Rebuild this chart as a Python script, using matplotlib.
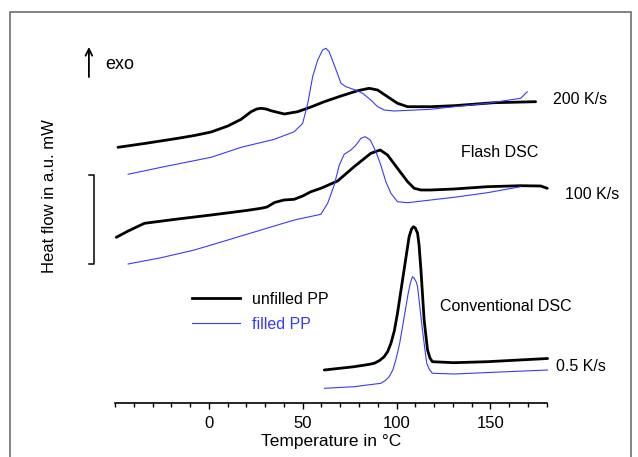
import matplotlib
matplotlib.use("Agg")
import matplotlib.pyplot as plt
from matplotlib.patches import Rectangle
from matplotlib.ticker import MultipleLocator
from matplotlib.lines import Line2D

plt.rcParams['font.family'] = ['Liberation Sans', 'DejaVu Sans']

# ---- data (temperature in degC, heat flow in a.u.) ----
t_200_unfilled = [-48.4, -34.3, -16.5, -7.7, 1.2, 10.1, 17.2, 22.5, 25.5, 27.8, 30.5, 33.1, 40.2, 47.3,
                  54.4, 61.5, 70.4, 79.3, 85.4, 89.9, 95.2, 100.5, 105.9, 118.2, 130.6, 151.9, 174.1]
h_200_unfilled = [255.7, 259.5, 264.7, 267.5, 271.0, 277.0, 283.7, 291.3, 294.0, 294.7, 294.0, 292.3,
                  289.0, 291.3, 296.0, 301.3, 307.0, 312.3, 314.7, 313.0, 306.3, 299.7, 296.3, 296.3,
                  297.3, 300.3, 301.3]

t_200_filled = [-43.1, -25.4, 1.2, 17.2, 34.9, 45.5, 50.0, 52.7, 55.3, 58.0, 60.6, 62.4, 64.1, 66.8,
                70.4, 73.0, 78.1, 81.9, 86.3, 89.9, 93.4, 98.7, 118.2, 130.6, 148.4, 166.1, 169.7]
h_200_filled = [228.7, 235.7, 245.7, 255.7, 263.7, 271.3, 279.7, 299.7, 326.3, 343.0, 353.0, 354.7,
                351.3, 338.0, 319.7, 316.3, 313.0, 309.7, 303.0, 296.3, 293.0, 292.0, 293.7, 296.3,
                299.7, 304.7, 311.3]

t_100_unfilled = [-49.3, -43.0, -34.3, -16.5, 1.2, 20.0, 27.8, 31.0, 35.0, 40.0, 45.5, 50.0, 54.4, 59.7,
                  68.6, 77.4, 86.3, 91.3, 95.2, 100.5, 105.9, 109.4, 113.0, 118.2, 130.6, 148.4, 166.1,
                  176.8, 180.3]
h_100_unfilled = [165.7, 172.0, 179.7, 184.0, 188.0, 192.5, 194.7, 196.0, 200.5, 203.0, 203.7, 207.0,
                  211.3, 214.7, 222.0, 236.3, 249.7, 253.0, 248.0, 234.7, 221.3, 214.7, 213.0, 213.0,
                  214.0, 216.3, 217.3, 217.0, 214.7]

t_100_filled = [-43.1, -25.4, -7.7, 10.1, 27.8, 45.5, 59.7, 63.3, 66.8, 69.5, 72.1, 75.7, 78.4, 81.0,
                83.3, 86.0, 89.0, 91.6, 94.3, 97.0, 100.5, 105.9, 118.2, 130.6, 148.4, 166.1]
h_100_filled = [139.0, 145.3, 153.0, 163.0, 173.0, 183.0, 188.7, 199.7, 218.0, 238.0, 248.7, 253.0,
                258.0, 264.7, 266.3, 263.0, 251.3, 238.0, 221.3, 209.7, 201.3, 200.3, 203.0, 205.7,
                210.3, 216.3]

t_05_unfilled = [61.5, 77.4, 85.0, 88.1, 91.0, 93.4, 95.3, 97.0, 98.8, 100.5, 104.0, 106.7, 108.0, 109.0,
                 110.0, 111.2, 112.0, 113.0, 114.7, 116.5, 117.8, 119.1, 130.6, 148.4, 180.5]
h_05_unfilled = [33.0, 36.3, 38.5, 39.7, 42.5, 46.3, 51.5, 59.7, 72.0, 89.7, 133.0, 166.3, 174.0, 176.3,
                 175.0, 169.7, 158.0, 133.0, 83.0, 53.0, 45.0, 41.3, 40.3, 41.3, 44.5]

t_05_filled = [61.5, 77.4, 91.6, 94.0, 96.1, 98.0, 99.6, 101.5, 103.2, 106.2, 107.5, 108.5, 109.5, 110.5,
               111.2, 113.8, 115.0, 116.1, 117.5, 119.1, 130.6, 180.5]
h_05_filled = [14.7, 16.3, 19.7, 22.5, 26.3, 33.0, 43.0, 58.0, 76.3, 109.7, 121.0, 126.3, 124.5, 121.0,
               116.3, 73.0, 55.0, 39.7, 33.5, 29.7, 29.0, 33.0]

x_ticks = [0, 50, 100, 150]
labels = ["unfilled PP", "filled PP"]

BLACK = "black"
BLUE = "#3a3aff"
W, H = 638, 457

fig = plt.figure(figsize=(W / 100, H / 100), dpi=100)
ax = fig.add_axes([115 / W, 54 / H, 431.7 / W, 403 / H])
ax.set_xlim(-50, 180)
ax.set_ylim(0, 403)

for t, h, c, lw in [(t_200_unfilled, h_200_unfilled, BLACK, 2.0),
                    (t_200_filled, h_200_filled, BLUE, 0.8),
                    (t_100_unfilled, h_100_unfilled, BLACK, 2.0),
                    (t_100_filled, h_100_filled, BLUE, 0.8),
                    (t_05_unfilled, h_05_unfilled, BLACK, 2.0),
                    (t_05_filled, h_05_filled, BLUE, 0.8)]:
    ax.plot(t, h, color=c, lw=lw, clip_on=False, solid_joinstyle='round', solid_capstyle='round')

for s in ['left', 'right', 'top']:
    ax.spines[s].set_visible(False)
ax.spines['bottom'].set_linewidth(1.2)
ax.set_yticks([])
ax.set_xticks(x_ticks)
ax.xaxis.set_minor_locator(MultipleLocator(10))
ax.tick_params(axis='x', which='major', direction='out', length=4.5, width=1.0, labelsize=12, pad=5)
ax.tick_params(axis='x', which='minor', direction='out', length=2.8, width=1.0)
ax.set_xlabel("Temperature in °C", fontsize=12.5, labelpad=2)

fig.text(50 / W, 1 - 196 / H, "Heat flow in a.u. mW", rotation=90, ha='center', va='center', fontsize=12)

# scale bar
ax.plot([-63.7, -61.0, -61.0, -63.7], [228, 228, 139, 139], color='black', lw=1.1, clip_on=False)
# exo arrow
ax.annotate("", xy=(-63.9, 356), xytext=(-63.9, 326), annotation_clip=False,
            arrowprops=dict(arrowstyle='->', color='black', lw=1.3, shrinkA=0, shrinkB=0,
                            mutation_scale=12))
ax.text(-55.2, 333.7, "exo", fontsize=13, ha='left', va='baseline', clip_on=False)

fs = 11.5
ax.text(183.1, 298.7, "200 K/s", fontsize=fs, ha='left', va='baseline', clip_on=False)
ax.text(134.6, 245.7, "Flash DSC", fontsize=fs, ha='left', va='baseline', clip_on=False)
ax.text(189.9, 204.0, "100 K/s", fontsize=fs, ha='left', va='baseline', clip_on=False)
ax.text(123.4, 91.7, "Conventional DSC", fontsize=fs, ha='left', va='baseline', clip_on=False)
ax.text(184.7, 32.3, "0.5 K/s", fontsize=fs, ha='left', va='baseline', clip_on=False)

handles = [Line2D([], [], color=BLACK, lw=2.0), Line2D([], [], color=BLUE, lw=0.8)]
leg = fig.legend(handles, labels, loc='upper left', bbox_to_anchor=(191.7 / W, 1 - 292 / H),
                 frameon=False, fontsize=fs, handlelength=3.0, handletextpad=0.75,
                 labelspacing=0.6, borderpad=0, borderaxespad=0)
leg.get_texts()[1].set_color(BLUE)

fig.patches.append(Rectangle((10 / W, -0.1), 621 / W, (H - 12) / H + 0.1, fill=False,
                             edgecolor='#6e6e6e', lw=1.2, transform=fig.transFigure, figure=fig))

fig.savefig("out.png", dpi=100)
